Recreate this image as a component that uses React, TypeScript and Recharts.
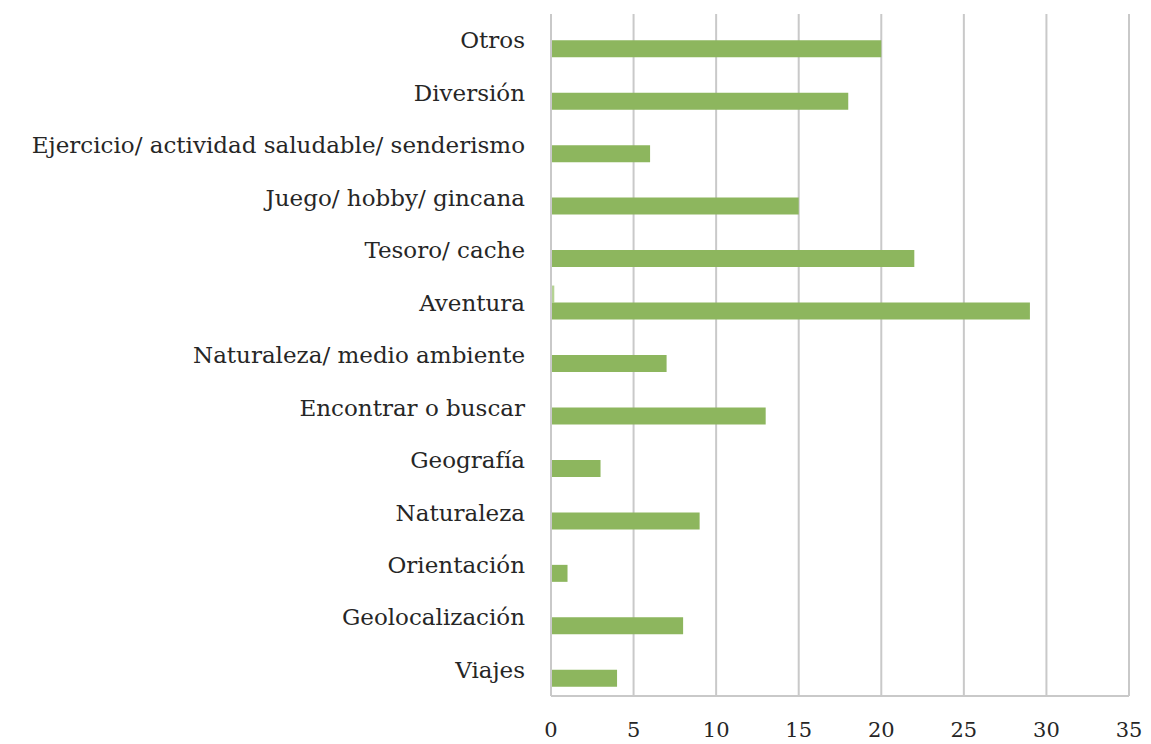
import React from 'react';
import { BarChart, Bar, XAxis, YAxis, CartesianGrid } from 'recharts';

const categories = [
  'Otros',
  'Diversión',
  'Ejercicio/ actividad saludable/ senderismo',
  'Juego/ hobby/ gincana',
  'Tesoro/ cache',
  'Aventura',
  'Naturaleza/ medio ambiente',
  'Encontrar o buscar',
  'Geografía',
  'Naturaleza',
  'Orientación',
  'Geolocalización',
  'Viajes',
];
const minorValues = [0.05, 0.05, 0.05, 0.05, 0.05, 0.2, 0.05, 0.05, 0.05, 0.05, 0.05, 0.05, 0.05];
const mainValues = [20, 18, 6, 15, 22, 29, 7, 13, 3, 9, 1, 8, 4];
const xTicks = [0, 5, 10, 15, 20, 25, 30, 35];

const chartData = categories.map((name, i) => ({
  name,
  minor: minorValues[i],
  main: mainValues[i],
}));

const font = '"DejaVu Serif", serif';

export default function App() {
  return (
    <div style={{ position: 'absolute', left: 0, top: 0, background: '#fff' }}>
      <BarChart
        width={1151}
        height={744}
        data={chartData}
        layout="vertical"
        margin={{ top: 14, right: 22, left: 0, bottom: 0 }}
        barCategoryGap="17.6%"
        barGap={0}
      >
        <CartesianGrid horizontal={false} stroke="#c9c9c9" strokeWidth={2} />
        <XAxis
          type="number"
          domain={[0, 35]}
          ticks={xTicks}
          height={48}
          axisLine={{ stroke: '#c9c9c9', strokeWidth: 2 }}
          tickLine={false}
          tickMargin={20}
          tick={{ fill: '#262626', fontSize: 21, fontFamily: font }}
        />
        <YAxis
          type="category"
          dataKey="name"
          width={551}
          axisLine={{ stroke: '#c9c9c9', strokeWidth: 2 }}
          tickLine={false}
          tickSize={0}
          tickMargin={26}
          interval={0}
          tick={{ fill: '#262626', fontSize: 23, fontFamily: font }}
        />
        <Bar dataKey="minor" fill="#b5d394" isAnimationActive={false} />
        <Bar dataKey="main" fill="#8db65e" isAnimationActive={false} />
      </BarChart>
    </div>
  );
}
